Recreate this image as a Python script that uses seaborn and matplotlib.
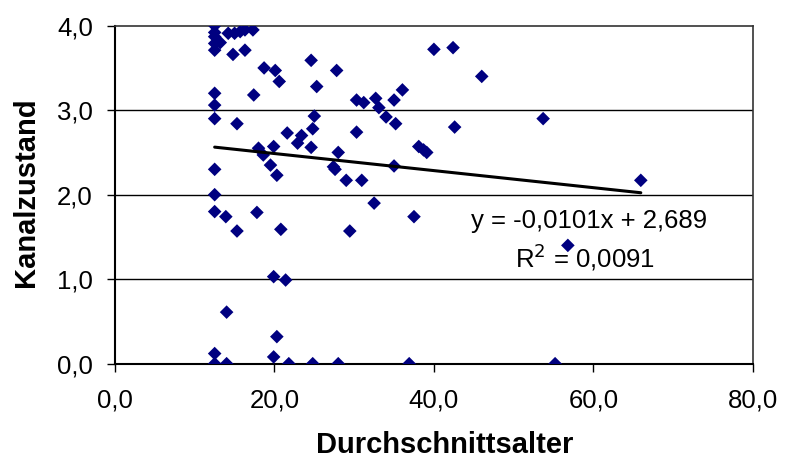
import numpy as np
import pandas as pd
import matplotlib
matplotlib.use('Agg')
import matplotlib.pyplot as plt
import seaborn as sns

# Durchschnittsalter (x) und Kanalzustand (y)
alter = [12.5, 12.5, 12.5, 12.5, 12.5, 13.2, 14.2, 15.0, 15.7, 16.3, 17.3,
         14.8, 16.3, 18.7, 20.1, 20.6, 12.5, 12.5, 17.4, 12.5, 15.3, 21.6,
         18.0, 18.6, 19.9, 12.5, 19.5, 20.3, 22.9, 23.4,
         12.5, 12.5, 13.9, 15.3, 17.8, 20.8, 19.9, 21.4, 14.0, 20.3, 12.5,
         19.9, 12.5, 14.0, 21.8,
         24.6, 27.8, 25.3, 30.3, 31.2, 32.7, 33.1, 35.0, 36.05, 40.0, 42.4,
         46.0, 25.0, 24.8, 30.3, 34.0, 35.2, 24.6, 28.0, 38.1, 38.7, 39.1,
         42.6, 27.4, 27.6, 35.0, 29.0, 30.95,
         32.5, 29.45, 37.5, 24.8, 28.0, 36.9,
         53.7, 65.95, 56.8, 55.2]
zustand = [4.0, 3.92, 3.87, 3.79, 3.71, 3.80, 3.91, 3.91, 3.93, 3.95, 3.95,
           3.66, 3.71, 3.50, 3.47, 3.34, 3.20, 3.06, 3.18, 2.90, 2.84, 2.73,
           2.55, 2.47, 2.57, 2.30, 2.35, 2.23, 2.61, 2.70,
           2.0, 1.80, 1.74, 1.57, 1.79, 1.59, 1.03, 0.99, 0.61, 0.32, 0.12,
           0.08, 0.0, 0.0, 0.0,
           3.59, 3.47, 3.28, 3.12, 3.09, 3.14, 3.03, 3.12, 3.24, 3.72, 3.74,
           3.40, 2.93, 2.78, 2.74, 2.92, 2.84, 2.56, 2.50, 2.57, 2.53, 2.50,
           2.80, 2.33, 2.30, 2.34, 2.17, 2.17,
           1.90, 1.57, 1.74, 0.0, 0.0, 0.0,
           2.90, 2.17, 1.40, 0.0]

# Trendlinie (Excel)
steigung = -0.0101
achsenabschnitt = 2.689

df = pd.DataFrame({'Durchschnittsalter': alter, 'Kanalzustand': zustand})

sns.set_style('white')
plt.rcParams['font.family'] = ['Liberation Sans', 'DejaVu Sans']
plt.rcParams['text.color'] = 'black'
plt.rcParams['axes.labelcolor'] = 'black'
plt.rcParams['xtick.color'] = 'black'
plt.rcParams['ytick.color'] = 'black'

fig = plt.figure(figsize=(7.85, 4.62), dpi=100)
ax = fig.add_axes([0.1465, 0.2128, 0.8125, 0.7316])

# Gitterlinien
for yv in [1, 2, 3]:
    ax.axhline(yv, color='black', lw=1, zorder=0)

sns.scatterplot(data=df, x='Durchschnittsalter', y='Kanalzustand', marker='D',
                color='#000080', s=48, edgecolor='none', ax=ax, zorder=3)

xl = np.array([min(alter), max(alter)])
ax.plot(xl, steigung * xl + achsenabschnitt, color='black', lw=2.2, zorder=4)

ax.set_xlim(0, 80)
ax.set_ylim(0, 4)
ax.set_xticks([0, 20, 40, 60, 80])
ax.set_yticks([0, 1, 2, 3, 4])
ax.set_xticklabels(['0,0', '20,0', '40,0', '60,0', '80,0'])
ax.set_yticklabels(['0,0', '1,0', '2,0', '3,0', '4,0'])
ax.tick_params(axis='both', direction='out', length=6, width=1, color='black',
               labelsize=18.5, bottom=True, left=True)
ax.tick_params(axis='x', pad=12)
ax.tick_params(axis='y', pad=10)

for side in ['left', 'bottom']:
    ax.spines[side].set_color('black')
    ax.spines[side].set_linewidth(1.5)
for side in ['top', 'right']:
    ax.spines[side].set_color('#333333')
    ax.spines[side].set_linewidth(1.2)

ax.set_xlabel('Durchschnittsalter', fontsize=21, fontweight='bold')
ax.set_ylabel('Kanalzustand', fontsize=21, fontweight='bold')
ax.xaxis.set_label_coords(0.517, -0.2)
ax.yaxis.set_label_coords(-0.117, 0.506)

ax.text(59.4, 1.606, 'y = -0,0101x + 2,689', fontsize=18.5, ha='center', va='baseline', zorder=5)
ax.text(59.0, 1.136, r'R$^2$ = 0,0091', fontsize=18.5, ha='center', va='baseline', zorder=5)

fig.savefig('out.png', dpi=100)
